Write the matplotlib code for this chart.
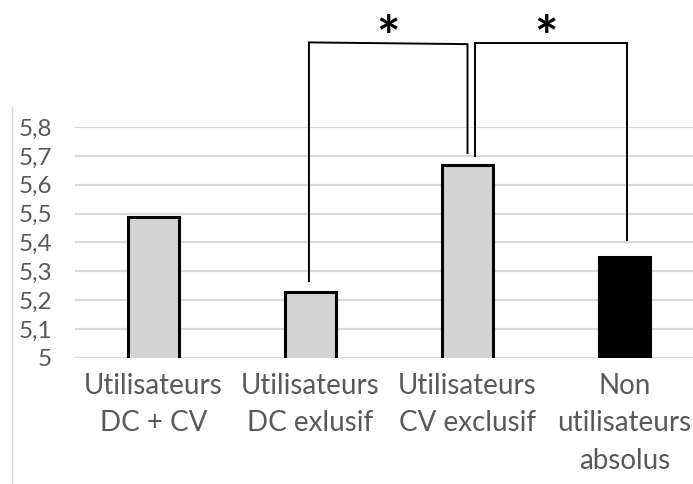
import matplotlib
matplotlib.use("Agg")
import matplotlib.pyplot as plt

categories = ["Utilisateurs\nDC + CV", "Utilisateurs\nDC exlusif",
              "Utilisateurs\nCV exclusif", "Non\nutilisateurs\nabsolus"]
values = [5.49, 5.23, 5.67, 5.35]
bar_colors = ["#d3d3d3", "#d3d3d3", "#d3d3d3", "#000000"]
yticks = [5.0, 5.1, 5.2, 5.3, 5.4, 5.5, 5.6, 5.7, 5.8]
ytick_labels = ["5", "5,1", "5,2", "5,3", "5,4", "5,5", "5,6", "5,7", "5,8"]

# significance brackets: (x_left, x_right, top_left, top_right, leg_left_bottom, leg_right_bottom, star_x)
brackets = [
    (0.99, 2.0, 6.093, 6.087, 5.266, 5.71, 1.495),
    (2.045, 3.015, 6.09, 6.09, 5.70, 5.41, 2.50),
]

plt.rcParams["font.family"] = ["Lato", "DejaVu Sans"]

W, H = 693, 484
fig = plt.figure(figsize=(W / 100, H / 100), dpi=100)
fig.patch.set_facecolor("white")

y0, y1 = 358, 127  # pixel rows of 5.0 and 5.8
ax = fig.add_axes([75 / W, 1 - y0 / H, 628 / W, (y0 - y1) / H])
ax.set_xlim(-0.5, 3.5)

ax.bar(range(len(values)), values, width=0.32, color=bar_colors,
       edgecolor="black", linewidth=2.2, zorder=3)
ax.set_ylim(5.0, 5.8)

ax.set_yticks(yticks)
ax.set_yticklabels(ytick_labels)
ax.yaxis.grid(True, color="#d9d9d9", linewidth=1.6, zorder=0)
ax.set_axisbelow(True)
for s in ax.spines.values():
    s.set_visible(False)
ax.tick_params(axis="y", length=0, pad=16.5, labelsize=17.5, labelcolor="#595959")
ax.set_xticks(range(len(categories)))
ax.set_xticklabels(categories)
ax.tick_params(axis="x", length=0, pad=11, labelsize=20, labelcolor="#595959")
for lab in ax.get_xticklabels():
    lab.set_linespacing(1.53)

for xl, xr, tl, tr, bl, br, sx in brackets:
    ax.plot([xl, xl, xr, xr], [bl, tl, tr, br], color="black", lw=1.4,
            clip_on=False, solid_joinstyle="miter", zorder=4)
    ax.text(sx, 6.014, "*", ha="center", va="bottom", fontsize=40,
            fontweight="bold", clip_on=False)

# light frame line on the left
fig.add_artist(plt.Line2D([12 / W, 12 / W], [0, 1 - 107 / H], color="#d9d9d9",
                          lw=1.0, transform=fig.transFigure))

fig.savefig("out.png", dpi=100)
